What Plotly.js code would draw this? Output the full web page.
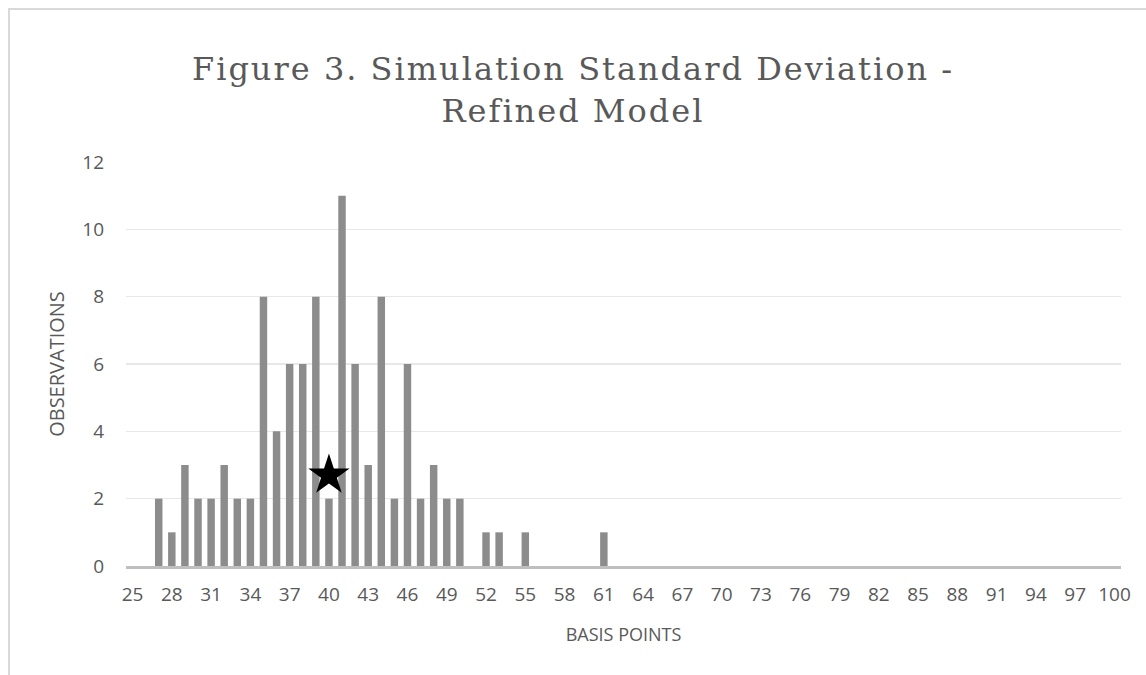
<!DOCTYPE html>
<html>
<head>
<meta charset="utf-8">
<script src="https://cdn.plot.ly/plotly-3.0.1.min.js"></script>
<style>
html,body{margin:0;padding:0;background:#fff;}
#chart{width:1146px;height:675px;}
#chart .gtitle{letter-spacing:2px;}
</style>
</head>
<body>
<div id="chart"></div>
<script>
const categories = ['25','26','27','28','29','30','31','32','33','34','35','36','37','38','39','40','41','42','43','44','45','46','47','48','49','50','51','52','53','54','55','56','57','58','59','60','61','62','63','64','65','66','67','68','69','70','71','72','73','74','75','76','77','78','79','80','81','82','83','84','85','86','87','88','89','90','91','92','93','94','95','96','97','98','99','100'];
const observations = [0,0,2,1,3,2,2,3,2,2,8,4,6,6,8,2,11,6,3,8,2,6,2,3,2,2,0,1,1,0,1,0,0,0,0,0,1,0,0,0,0,0,0,0,0,0,0,0,0,0,0,0,0,0,0,0,0,0,0,0,0,0,0,0,0,0,0,0,0,0,0,0,0,0,0,0];
const tickLabels = ['25','28','31','34','37','40','43','46','49','52','55','58','61','64','67','70','73','76','79','82','85','88','91','94','97','100'];
const starX = ['40'];
const starY = [2.7];

const L = 126, R = 1121, T = 162, B = 566;
function px(x){ return (x - L) / (R - L); }
function py(y){ return (B - y) / (B - T); }

const traces = [
  {type:'bar', x:categories, y:observations, marker:{color:'#8c8c8c'}, width:0.57, hoverinfo:'x+y'},
  {type:'scatter', mode:'markers', x:starX, y:starY, marker:{symbol:'star', size:31, color:'#000000'}, hoverinfo:'skip'}
];

const layout = {
  width:1146, height:675,
  margin:{l:L, r:1146-R, t:T, b:675-B, pad:0},
  paper_bgcolor:'#ffffff', plot_bgcolor:'#ffffff',
  showlegend:false,
  title:{text:'Figure 3. Simulation Standard Deviation -<br>Refined Model', x:0.5, xref:'container', xanchor:'center',
         y:1-80/675, yref:'container', yanchor:'middle',
         font:{family:'DejaVu Serif', size:32, color:'#595959'}},
  xaxis:{type:'category', categoryorder:'array', categoryarray:categories, tickmode:'array', tickvals:tickLabels, ticktext:tickLabels,
         range:[-0.5, categories.length-0.5], showgrid:false, showline:true, linecolor:'#bfbfbf', linewidth:2.5, ticks:'', zeroline:false,
         tickfont:{family:'Open Sans', size:19, color:'#595959'}, tickangle:0, ticklabelstandoff:10,
         title:{text:'BASIS POINTS', font:{family:'Open Sans', size:18, color:'#595959'}, standoff:22}},
  yaxis:{range:[0,12], dtick:2, tick0:0, showgrid:true, gridcolor:'#e8e8e8', gridwidth:1.5, showline:false, zeroline:false, ticks:'',
         tickfont:{family:'Open Sans', size:19, color:'#595959'}, ticklabelstandoff:21,
         title:{text:'OBSERVATIONS', font:{family:'Open Sans', size:20, color:'#595959'}, standoff:12}},
  bargap:0.43,
  shapes:[
    {type:'line', xref:'paper', yref:'paper', x0:px(8), x1:px(1146), y0:py(9), y1:py(9), line:{color:'#d9d9d9', width:2}},
    {type:'line', xref:'paper', yref:'paper', x0:px(9), x1:px(9), y0:py(8), y1:py(675), line:{color:'#d9d9d9', width:2}}
  ]
};

Plotly.newPlot('chart', traces, layout, {displayModeBar:false, staticPlot:true});
</script>
</body>
</html>
